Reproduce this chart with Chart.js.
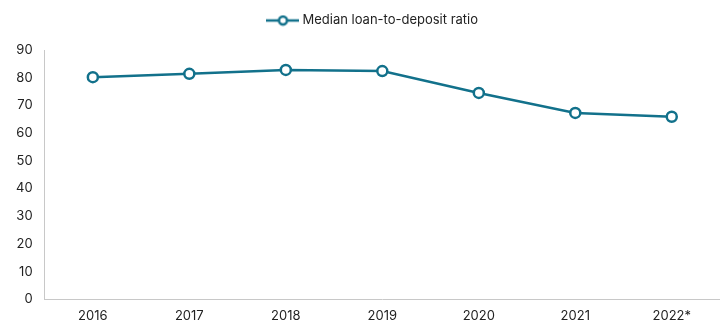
<!DOCTYPE html>
<html><head><meta charset="utf-8">
<script src="https://cdn.jsdelivr.net/npm/chart.js@4/dist/chart.umd.min.js"></script>
<style>html,body{margin:0;padding:0;background:#fff}#wrap{width:720px;height:322px}</style>
</head><body><div id="wrap"><canvas id="c" width="720" height="322"></canvas></div>
<script>
const categories = ["2016","2017","2018","2019","2020","2021","2022*"];
const ratioValues = [80.2, 81.4, 82.8, 82.4, 74.5, 67.3, 65.9];
const yTicks = [0,10,20,30,40,50,60,70,80,90];
const seriesName = "Median loan-to-deposit ratio";
const COLOR = "#12718b";
const FONT = 'Inter';

const icon = document.createElement('canvas');
icon.width = 33; icon.height = 12;
(function(){
  const g = icon.getContext('2d');
  g.strokeStyle = COLOR; g.lineWidth = 2.5;
  g.beginPath(); g.moveTo(0,6); g.lineTo(33,6); g.stroke();
  g.fillStyle = '#fff';
  g.beginPath(); g.arc(16.5,6,4,0,Math.PI*2); g.fill(); g.stroke();
})();

const legendTweak = {
  id: 'legendTweak',
  beforeInit(chart) {
    const l = chart.legend;
    const orig = l.fit;
    l.fit = function() { orig.call(this); this.height += 13; };
  },
  afterLayout(chart) {
    const l = chart.legend;
    if (l) { l.left += 12; l.right += 12; }
  }
};

new Chart(document.getElementById('c'), {
  type: 'line',
  data: {
    labels: categories,
    datasets: [{
      label: seriesName,
      data: ratioValues,
      borderColor: COLOR,
      borderWidth: 2.5,
      pointRadius: 5,
      pointBorderWidth: 2.5,
      pointBackgroundColor: '#fff',
      pointBorderColor: COLOR,
      tension: 0
    }]
  },
  plugins: [legendTweak],
  options: {
    responsive: false,
    animation: false,
    layout: { autoPadding: false, padding: { left: 4, right: 0, top: 2, bottom: -11 } },
    plugins: {
      legend: {
        position: 'top',
        labels: {
          usePointStyle: true,
          pointStyleWidth: 26,
          font: { family: FONT, size: 13 },
          color: '#222',
          padding: 12,
          generateLabels: (chart) => [{
            text: seriesName, pointStyle: icon, fillStyle: COLOR, strokeStyle: COLOR,
            lineWidth: 0, hidden: false, datasetIndex: 0, fontColor: '#222'
          }]
        }
      },
      tooltip: { enabled: false }
    },
    scales: {
      x: {
        offset: true,
        grid: { display: false, drawTicks: false },
        border: { color: '#c8c8c8', width: 1 },
        ticks: { color: '#222', font: { family: FONT, size: 13 }, padding: 9 }
      },
      y: {
        min: 0, max: 90,
        afterBuildTicks: (ax) => { ax.ticks = yTicks.map(v => ({ value: v })); },
        grid: { display: false, drawTicks: false },
        border: { color: '#c8c8c8', width: 1 },
        ticks: { color: '#222', font: { family: FONT, size: 13 }, padding: 12 }
      }
    }
  }
});
</script></body></html>
